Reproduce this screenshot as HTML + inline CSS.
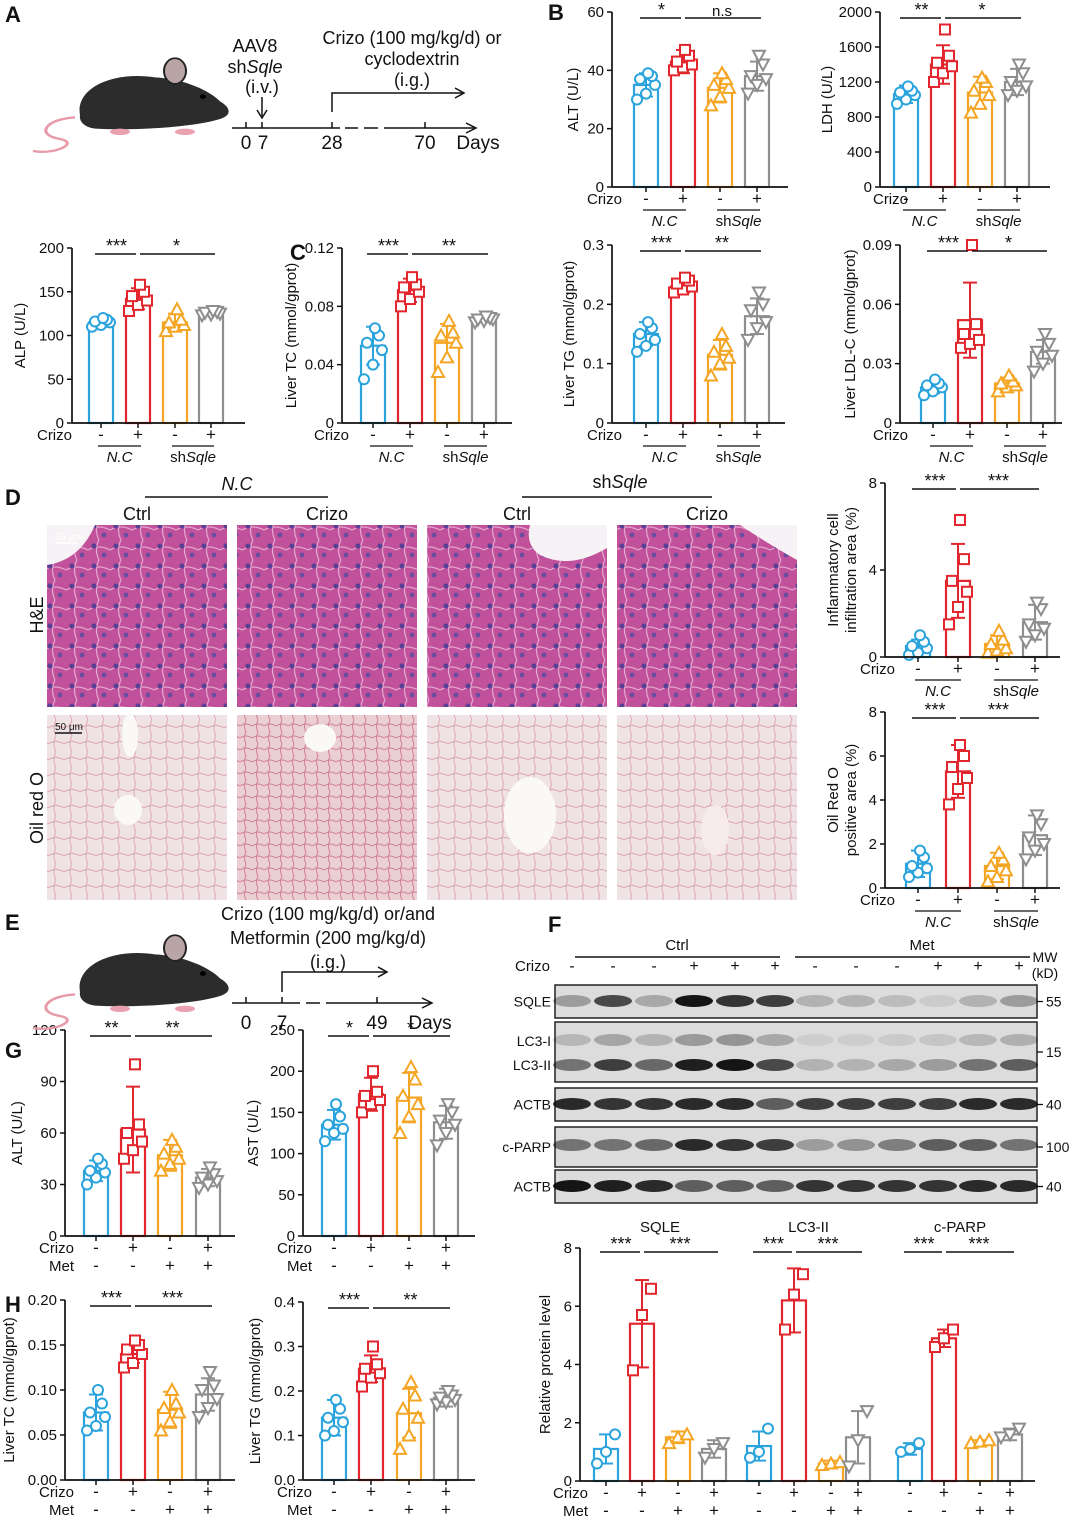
<!DOCTYPE html>
<html><head><meta charset="utf-8"><style>
body{margin:0;background:#fff;}
svg{display:block;font-family:"Liberation Sans",Arial,sans-serif;}
</style></head><body>
<svg id="fig" width="1080" height="1520" viewBox="0 0 1080 1520" xmlns="http://www.w3.org/2000/svg">
<defs>
<pattern id="he" width="22" height="20" patternUnits="userSpaceOnUse">
<rect width="22" height="20" fill="#c0519a"/>
<path d="M0 10 Q11 4 22 10 M11 0 Q6 10 11 20" stroke="#e3a3cc" stroke-width="1.3" fill="none"/>
<circle cx="6" cy="6" r="2.6" fill="#5a3f95"/><circle cx="16" cy="15" r="2.4" fill="#6a4ca0"/>
</pattern>
<pattern id="oil" width="16" height="16" patternUnits="userSpaceOnUse">
<rect width="16" height="16" fill="#f0e3e5"/>
<path d="M0 8 Q8 3 16 8 M8 0 Q4 8 8 16" stroke="#dca3b0" stroke-width="0.9" fill="none"/>
</pattern>
<pattern id="oil2" width="12" height="12" patternUnits="userSpaceOnUse">
<rect width="12" height="12" fill="#eacfd5"/>
<path d="M0 6 Q6 2 12 6 M6 0 Q3 6 6 12" stroke="#cf7f93" stroke-width="1" fill="none"/>
</pattern>
</defs>
<g id="root"></g>
</svg>
<script>
// ---------- DATA ----------
const altB_mean=[35,43,34,38], altB_sd=[4,4,5,5];
const altB_pts=[[30,32,35,37,38,39],[40,41,42,43,45,47],[28,31,34,35,37,39],[32,35,37,38,42,45]];
const ldh_mean=[1060,1400,1080,1200], ldh_sd=[100,220,180,150];
const ldh_pts=[[950,1000,1050,1080,1100,1150],[1200,1300,1380,1420,1500,1800],[850,950,1050,1100,1200,1250],[1050,1100,1150,1200,1300,1400]];
const alp_mean=[115,142,115,126], alp_sd=[5,12,10,3];
const alp_pts=[[110,112,115,116,118,120],[128,135,140,145,150,158],[105,110,112,115,118,130],[123,124,125,126,127,128]];
const tc_mean=[0.053,0.091,0.055,0.071], tc_sd=[0.013,0.008,0.013,0.002];
const tc_pts=[[0.03,0.04,0.05,0.055,0.06,0.065],[0.08,0.085,0.09,0.093,0.095,0.1],[0.035,0.045,0.055,0.06,0.062,0.07],[0.069,0.07,0.071,0.071,0.072,0.073]];
const tg_mean=[0.15,0.23,0.115,0.18], tg_sd=[0.02,0.01,0.025,0.03];
const tg_pts=[[0.12,0.13,0.14,0.15,0.16,0.17],[0.22,0.225,0.23,0.235,0.24,0.245],[0.08,0.1,0.11,0.12,0.13,0.15],[0.14,0.16,0.17,0.19,0.2,0.22]];
const ldl_mean=[0.018,0.052,0.02,0.036], ldl_sd=[0.003,0.019,0.003,0.006];
const ldl_pts=[[0.014,0.016,0.018,0.019,0.02,0.022],[0.038,0.04,0.042,0.045,0.05,0.09],[0.016,0.018,0.019,0.02,0.021,0.024],[0.026,0.03,0.034,0.036,0.04,0.045]];
const inf_mean=[0.5,3.5,0.6,1.6], inf_sd=[0.3,1.7,0.4,0.8];
const inf_pts=[[0.1,0.2,0.4,0.5,0.7,1.0],[1.5,2.3,3.0,3.5,4.5,6.3],[0.2,0.3,0.4,0.6,0.8,1.2],[0.7,1.0,1.3,1.5,2.2,2.5]];
const oil_mean=[1.1,5.3,1.0,2.4], oil_sd=[0.6,1.2,0.6,0.9];
const oil_pts=[[0.5,0.7,0.9,1.0,1.4,1.7],[3.8,4.5,5.0,5.5,6.0,6.5],[0.3,0.5,0.8,1.0,1.3,1.6],[1.3,1.7,2.0,2.3,2.9,3.3]];
const altG_mean=[38,62,47,34], altG_sd=[6,25,9,5];
const altG_pts=[[30,34,37,38,42,45],[45,50,55,60,65,100],[38,42,45,48,52,56],[28,30,32,34,36,40]];
const ast_mean=[135,172,168,138], ast_sd=[18,20,30,20];
const ast_pts=[[115,125,130,135,145,160],[150,160,165,170,175,200],[125,145,160,170,190,205],[110,125,135,140,150,160]];
const htc_mean=[0.075,0.14,0.078,0.095], htc_sd=[0.02,0.01,0.02,0.018];
const htc_pts=[[0.055,0.06,0.07,0.075,0.085,0.1],[0.125,0.13,0.14,0.145,0.15,0.155],[0.055,0.065,0.075,0.08,0.085,0.1],[0.07,0.08,0.09,0.1,0.105,0.12]];
const htg_mean=[0.14,0.25,0.15,0.185], htg_sd=[0.04,0.03,0.055,0.02];
const htg_pts=[[0.1,0.11,0.13,0.14,0.16,0.18],[0.21,0.23,0.24,0.25,0.26,0.3],[0.07,0.1,0.14,0.16,0.19,0.22],[0.17,0.175,0.18,0.185,0.19,0.2]];
const sqle_mean=[1.1,5.4,1.5,1.1], sqle_sd=[0.5,1.5,0.2,0.3];
const sqle_pts=[[0.6,1.0,1.6],[3.8,5.7,6.6],[1.3,1.5,1.6],[0.8,1.1,1.3]];
const lc3_mean=[1.2,6.2,0.6,1.5], lc3_sd=[0.5,1.1,0.1,0.9];
const lc3_pts=[[0.8,1.0,1.8],[5.2,6.4,7.1],[0.55,0.6,0.65],[0.5,1.4,2.4]];
const parp_mean=[1.1,4.9,1.3,1.6], parp_sd=[0.2,0.3,0.1,0.2];
const parp_pts=[[1.0,1.1,1.3],[4.6,4.9,5.2],[1.3,1.35,1.4],[1.5,1.6,1.8]];

// ---------- helpers ----------
const NS='http://www.w3.org/2000/svg';
const root=document.getElementById('root');
const COL=['#2ba3dc','#e1262d','#f5a524','#8e8e8e'];
function mk(tag,attrs,parent,txt){const e=document.createElementNS(NS,tag);for(const k in attrs)e.setAttribute(k,attrs[k]);if(txt!==undefined)e.textContent=txt;(parent||root).appendChild(e);return e;}
function txt(x,y,s,size,anchor,parent,extra){const t=mk('text',Object.assign({x:x,y:y,'font-size':size||15,'text-anchor':anchor||'middle',fill:'#111'},extra||{}),parent,s);return t;}
function html(x,y,markup,size,anchor,parent){const t=mk('text',{x:x,y:y,'font-size':size||15,'text-anchor':anchor||'middle',fill:'#111'},parent);t.innerHTML=markup;return t;}
const JIT=[-9,0,9,-6,6,2];
function marker(g,i,cx,cy){const c=COL[i];const s=5;
 let e;
 if(i===0)e=mk('circle',{cx:cx,cy:cy,r:s,fill:'#fff',stroke:c,'stroke-width':2},g);
 else if(i===1)e=mk('rect',{x:cx-s,y:cy-s,width:2*s,height:2*s,fill:'#fff',stroke:c,'stroke-width':2},g);
 else if(i===2)e=mk('polygon',{points:`${cx},${cy-s-1} ${cx-s-1},${cy+s} ${cx+s+1},${cy+s}`,fill:'#fff',stroke:c,'stroke-width':2},g);
 else e=mk('polygon',{points:`${cx},${cy+s+1} ${cx-s-1},${cy-s} ${cx+s+1},${cy-s}`,fill:'#fff',stroke:c,'stroke-width':2},g);
 
 
}
function chart(o){
 const g=mk('g',{},root);
 const y=v=>o.yb-(v/o.max)*(o.yb-o.yt);
 o.groups.forEach((grp,gi)=>{
  const xs=o.bx.slice(gi*4,gi*4+4);const m=grp.mean,sd=grp.sd,pts=grp.pts;
  xs.forEach((bx,i)=>{
   const b=mk('rect',{x:bx-12,y:y(m[i]),width:24,height:o.yb-y(m[i]),fill:'#fff',stroke:COL[i],'stroke-width':2.2},g);
   
   
   mk('line',{x1:bx,x2:bx,y1:y(m[i]-sd[i]),y2:y(m[i]+sd[i]),stroke:COL[i],'stroke-width':2},g);
   mk('line',{x1:bx-7,x2:bx+7,y1:y(m[i]+sd[i]),y2:y(m[i]+sd[i]),stroke:COL[i],'stroke-width':2},g);
   mk('line',{x1:bx-7,x2:bx+7,y1:y(m[i]-sd[i]),y2:y(m[i]-sd[i]),stroke:COL[i],'stroke-width':2},g);
   pts[i].forEach((v,k)=>marker(g,i,bx+JIT[k%6],y(v)));
  });
  if(grp.sig){const sy=o.yt+ (o.sigOff||6);
   mk('line',{x1:xs[0]-6,x2:xs[1]-2,y1:sy,y2:sy,stroke:'#111','stroke-width':1.5},g);
   mk('line',{x1:xs[1]+2,x2:xs[3]+4,y1:sy,y2:sy,stroke:'#111','stroke-width':1.5},g);
   txt((xs[0]+xs[1])/2-3,sy-2,grp.sig[0],grp.sig[0]==='n.s'?15:18,'middle',g);
   txt((xs[1]+xs[3])/2+2,sy-2,grp.sig[1],grp.sig[1]==='n.s'?15:18,'middle',g);
   if(grp.title)txt((xs[0]+xs[3])/2,sy-20,grp.title,15,'middle',g);
  }
 });
 mk('line',{x1:o.ax,x2:o.ax,y1:o.yt,y2:o.yb,stroke:'#111','stroke-width':1.7},g);
 mk('line',{x1:o.ax,x2:o.axEnd,y1:o.yb,y2:o.yb,stroke:'#111','stroke-width':1.7},g);
 o.ticks.forEach((t,k)=>{const ty=y(o.tickVals[k]);
  mk('line',{x1:o.ax-5,x2:o.ax,y1:ty,y2:ty,stroke:'#111','stroke-width':1.5},g);
  txt(o.ax-8,ty+5,t,15,'end',g);});
 const lab=txt(0,0,o.ylabel,15,'middle',g);lab.setAttribute('transform',`translate(${o.ylx},${(o.yt+o.yb)/2}) rotate(-90)`);
 if(o.ylabel2){const l2=txt(0,0,o.ylabel2,15,'middle',g);l2.setAttribute('transform',`translate(${o.ylx+18},${(o.yt+o.yb)/2}) rotate(-90)`);}
 const r1=o.yb+17;
 txt(o.crizoX,r1,'Crizo',15,'end',g);
 o.bx.forEach((bx,k)=>{ mk('line',{x1:bx,x2:bx,y1:o.yb,y2:o.yb+5,stroke:'#111','stroke-width':1.5},g);
   txt(bx,r1,k%2?'+':'-',17,'middle',g);});
 if(o.met){txt(o.crizoX,r1+18,'Met',15,'end',g);
   o.bx.forEach((bx,k)=>txt(bx,r1+18,(k%4)>1?'+':'-',17,'middle',g));}
 else{
  for(let p=0;p<o.bx.length;p+=2){const a=o.bx[p],b=o.bx[p+1];
   mk('line',{x1:a-3,x2:b+3,y1:r1+6,y2:r1+6,stroke:'#111','stroke-width':1.3},g);
   if(p%4===0)html((a+b)/2,r1+22,'<tspan font-style="italic">N.C</tspan>',15,'middle',g);
   else html((a+b)/2,r1+22,'sh<tspan font-style="italic">Sqle</tspan>',15,'middle',g);}
 }
}
chart({name:'alt-b-chart',ax:612,axEnd:788,yt:12,yb:187,max:60,ticks:['0','20','40','60'],tickVals:[0,20,40,60],bx:[646,683,720,757],groups:[{mean:altB_mean,sd:altB_sd,pts:altB_pts,sig:['*','n.s']}],ylabel:'ALT (U/L)',ylx:578,crizoX:622});
chart({name:'ldh-chart',ax:880,axEnd:1050,yt:12,yb:187,max:2000,ticks:['0','400','800','1200','1600','2000'],tickVals:[0,400,800,1200,1600,2000],bx:[906,943,980,1017],groups:[{mean:ldh_mean,sd:ldh_sd,pts:ldh_pts,sig:['**','*']}],ylabel:'LDH (U/L)',ylx:832,crizoX:908});
chart({name:'alp-chart',ax:72,axEnd:245,yt:248,yb:423,max:200,ticks:['0','50','100','150','200'],tickVals:[0,50,100,150,200],bx:[101,138,175,211],groups:[{mean:alp_mean,sd:alp_sd,pts:alp_pts,sig:['***','*']}],ylabel:'ALP (U/L)',ylx:25,crizoX:72});
chart({name:'liver-tc-chart',ax:342,axEnd:512,yt:248,yb:423,max:0.12,ticks:['0','0.04','0.08','0.12'],tickVals:[0,0.04,0.08,0.12],bx:[373,410,447,484],groups:[{mean:tc_mean,sd:tc_sd,pts:tc_pts,sig:['***','**']}],ylabel:'Liver TC (mmol/gprot)',ylx:296,crizoX:349});
chart({name:'liver-tg-chart',ax:612,axEnd:785,yt:245,yb:423,max:0.3,ticks:['0','0.1','0.2','0.3'],tickVals:[0,0.1,0.2,0.3],bx:[646,683,720,757],groups:[{mean:tg_mean,sd:tg_sd,pts:tg_pts,sig:['***','**']}],ylabel:'Liver TG (mmol/gprot)',ylx:574,crizoX:622});
chart({name:'liver-ldl-chart',ax:900,axEnd:1062,yt:245,yb:423,max:0.09,ticks:['0','0.03','0.06','0.09'],tickVals:[0,0.03,0.06,0.09],bx:[933,970,1007,1043],groups:[{mean:ldl_mean,sd:ldl_sd,pts:ldl_pts,sig:['***','*']}],ylabel:'Liver LDL-C (mmol/gprot)',ylx:855,crizoX:908});
chart({name:'inflammatory-chart',ax:885,axEnd:1060,yt:483,yb:657,max:8,ticks:['0','4','8'],tickVals:[0,4,8],bx:[918,958,997,1035],groups:[{mean:inf_mean,sd:inf_sd,pts:inf_pts,sig:['***','***']}],ylabel:'Inflammatory cell',ylabel2:'infiltration area (%)',ylx:838,crizoX:895});
chart({name:'oil-red-chart',ax:885,axEnd:1060,yt:712,yb:888,max:8,ticks:['0','2','4','6','8'],tickVals:[0,2,4,6,8],bx:[918,958,997,1035],groups:[{mean:oil_mean,sd:oil_sd,pts:oil_pts,sig:['***','***']}],ylabel:'Oil Red O',ylabel2:'positive area (%)',ylx:838,crizoX:895});
chart({name:'alt-g-chart',ax:65,axEnd:235,yt:1030,yb:1236,max:120,ticks:['0','30','60','90','120'],tickVals:[0,30,60,90,120],bx:[96,133,170,208],groups:[{mean:altG_mean,sd:altG_sd,pts:altG_pts,sig:['**','**']}],ylabel:'ALT (U/L)',ylx:22,crizoX:74,met:true});
chart({name:'ast-chart',ax:303,axEnd:475,yt:1030,yb:1236,max:250,ticks:['0','50','100','150','200','250'],tickVals:[0,50,100,150,200,250],bx:[334,371,409,446],groups:[{mean:ast_mean,sd:ast_sd,pts:ast_pts,sig:['*','*']}],ylabel:'AST (U/L)',ylx:258,crizoX:312,met:true});
chart({name:'h-tc-chart',ax:65,axEnd:235,yt:1300,yb:1480,max:0.2,ticks:['0.00','0.05','0.10','0.15','0.20'],tickVals:[0,0.05,0.1,0.15,0.2],bx:[96,133,170,208],groups:[{mean:htc_mean,sd:htc_sd,pts:htc_pts,sig:['***','***']}],ylabel:'Liver TC (mmol/gprot)',ylx:14,crizoX:74,met:true});
chart({name:'h-tg-chart',ax:303,axEnd:475,yt:1302,yb:1480,max:0.4,ticks:['0.0','0.1','0.2','0.3','0.4'],tickVals:[0,0.1,0.2,0.3,0.4],bx:[334,371,409,446],groups:[{mean:htg_mean,sd:htg_sd,pts:htg_pts,sig:['***','**']}],ylabel:'Liver TG (mmol/gprot)',ylx:260,crizoX:312,met:true});
chart({name:'relative-protein-chart',ax:580,axEnd:1035,yt:1248,yb:1481,max:8,sigOff:4,ticks:['0','2','4','6','8'],tickVals:[0,2,4,6,8],bx:[606,642,678,714,759,794,831,858,910,944,980,1010],groups:[{mean:sqle_mean,sd:sqle_sd,pts:sqle_pts,sig:['***','***'],title:'SQLE'},{mean:lc3_mean,sd:lc3_sd,pts:lc3_pts,sig:['***','***'],title:'LC3-II'},{mean:parp_mean,sd:parp_sd,pts:parp_pts,sig:['***','***'],title:'c-PARP'}],ylabel:'Relative protein level',ylx:550,crizoX:588,met:true});

[['A',5,22],['B',548,20],['C',290,260],['D',5,505],['E',5,930],['F',548,932],['G',5,1058],['H',5,1312]].forEach(([l,x,y])=>{const t=txt(x,y,l,22,'start',root,{'font-weight':'bold'});});

function mouse(x,y,name){const g=mk('g',{transform:`translate(${x},${y}) scale(1,0.8)`},root);
 mk('path',{d:'M40 78 C10 80 0 100 25 105 C45 110 20 125 -2 120',stroke:'#e79aa8','stroke-width':3,fill:'none'},g);
 mk('path',{d:'M45 75 C40 40 80 20 120 28 C150 30 175 45 185 58 C195 65 198 75 185 80 C160 90 100 95 60 92 C48 90 44 82 45 75Z',fill:'#2c2c2c'},g);
 mk('ellipse',{cx:140,cy:20,rx:11,ry:16,fill:'#b9a4a6',stroke:'#222','stroke-width':2},g);
 mk('circle',{cx:168,cy:52,r:3,fill:'#000'},g);
 mk('ellipse',{cx:150,cy:96,rx:10,ry:4,fill:'#e9a0b0'},g);mk('ellipse',{cx:85,cy:96,rx:10,ry:4,fill:'#e9a0b0'},g);
}
mouse(35,55,'mouse-illustration-a');mouse(35,932,'mouse-illustration-e');

(function(){const g=mk('g',{},root);
 mk('line',{x1:232,x2:340,y1:128,y2:128,stroke:'#111','stroke-width':1.5},g);
 mk('line',{x1:345,x2:358,y1:128,y2:128,stroke:'#111','stroke-width':1.5},g);
 mk('line',{x1:364,x2:378,y1:128,y2:128,stroke:'#111','stroke-width':1.5},g);
 mk('line',{x1:384,x2:474,y1:128,y2:128,stroke:'#111','stroke-width':1.5},g);
 mk('path',{d:'M466 123 L476 128 L466 133',stroke:'#111','stroke-width':1.5,fill:'none'},g);
 [246,262,332,425].forEach(x=>mk('line',{x1:x,x2:x,y1:128,y2:122,stroke:'#111','stroke-width':1.5},g));
 [['0',246],['7',263],['28',332],['70',425]].forEach(([s,x])=>txt(x,149,s,19,'middle',g));
 txt(478,149,'Days',19,'middle',g);
 txt(255,52,'AAV8',18,'middle',g);html(255,73,'sh<tspan font-style="italic">Sqle</tspan>',18,'middle',g);txt(262,93,'(i.v.)',18,'middle',g);
 mk('line',{x1:262,x2:262,y1:97,y2:116,stroke:'#111','stroke-width':1.5},g);mk('path',{d:'M257 110 L262 118 L267 110',stroke:'#111','stroke-width':1.5,fill:'none'},g);
 txt(412,44,'Crizo (100 mg/kg/d) or',18,'middle',g);txt(412,65,'cyclodextrin',18,'middle',g);txt(412,86,'(i.g.)',18,'middle',g);
 mk('path',{d:'M332 112 L332 93 L462 93',stroke:'#111','stroke-width':1.5,fill:'none'},g);mk('path',{d:'M455 88 L464 93 L455 98',stroke:'#111','stroke-width':1.5,fill:'none'},g);
})();
(function(){const g=mk('g',{},root);
 mk('line',{x1:232,x2:300,y1:1003,y2:1003,stroke:'#111','stroke-width':1.5},g);
 mk('line',{x1:306,x2:320,y1:1003,y2:1003,stroke:'#111','stroke-width':1.5},g);
 mk('line',{x1:326,x2:430,y1:1003,y2:1003,stroke:'#111','stroke-width':1.5},g);
 mk('path',{d:'M422 998 L432 1003 L422 1008',stroke:'#111','stroke-width':1.5,fill:'none'},g);
 [246,282,377].forEach(x=>mk('line',{x1:x,x2:x,y1:1003,y2:997,stroke:'#111','stroke-width':1.5},g));
 [['0',246],['7',282],['49',377]].forEach(([s,x])=>txt(x,1029,s,19,'middle',g));txt(430,1029,'Days',19,'middle',g);
 txt(328,920,'Crizo (100 mg/kg/d) or/and',18,'middle',g);txt(328,944,'Metformin (200 mg/kg/d)',18,'middle',g);txt(328,968,'(i.g.)',18,'middle',g);
 mk('path',{d:'M282 992 L282 972 L385 972',stroke:'#111','stroke-width':1.5,fill:'none'},g);mk('path',{d:'M378 967 L387 972 L378 977',stroke:'#111','stroke-width':1.5,fill:'none'},g);
})();

(function(){const g=mk('g',{},root);
 mk('line',{x1:145,x2:328,y1:497,y2:497,stroke:'#111','stroke-width':1.5},g);html(237,490,'<tspan font-style="italic">N.C</tspan>',18,'middle',g);
 mk('line',{x1:522,x2:712,y1:497,y2:497,stroke:'#111','stroke-width':1.5},g);html(620,488,'sh<tspan font-style="italic">Sqle</tspan>',18,'middle',g);
 const xs=[47,237,427,617];['Ctrl','Crizo','Ctrl','Crizo'].forEach((s,i)=>txt(xs[i]+90,520,s,18,'middle',g));
 const l1=txt(0,0,'H&E',18,'middle',g);l1.setAttribute('transform','translate(43,615) rotate(-90)');
 const l2=txt(0,0,'Oil red O',18,'middle',g);l2.setAttribute('transform','translate(43,808) rotate(-90)');
 xs.forEach((x,i)=>{const a=mk('rect',{x:x,y:525,width:180,height:182,fill:'url(#he)'},g);
  const b=mk('rect',{x:x,y:715,width:180,height:185,fill:i===1?'url(#oil2)':'url(#oil)'},g);});
 mk('path',{d:'M47 525 L95 525 Q80 560 47 565Z',fill:'#f7f2f5'},g);
 mk('path',{d:'M530 525 L607 525 L607 548 Q570 570 540 555 Q525 545 530 525Z',fill:'#f7f2f5'},g);
 mk('path',{d:'M740 525 L797 525 L797 560 Q770 545 740 525Z',fill:'#f7f2f5'},g);
 mk('ellipse',{cx:130,cy:735,rx:8,ry:22,fill:'#fbf8f8'},g);mk('ellipse',{cx:128,cy:810,rx:14,ry:15,fill:'#fbf8f8'},g);
 mk('ellipse',{cx:320,cy:738,rx:16,ry:14,fill:'#fbf8f8'},g);mk('ellipse',{cx:530,cy:815,rx:26,ry:38,fill:'#fbf8f8'},g);
 mk('ellipse',{cx:715,cy:830,rx:14,ry:25,fill:'#f6eaea'},g);
 txt(55,540,'25 μm',10,'start',g,{fill:'#fff'});mk('line',{x1:55,x2:78,y1:543,y2:543,stroke:'#fff','stroke-width':1.5},g);
 txt(55,730,'50 μm',10,'start',g);mk('line',{x1:55,x2:82,y1:733,y2:733,stroke:'#111','stroke-width':1.5},g);
})();

(function(){const g=mk('g',{},root);
 mk('line',{x1:575,x2:780,y1:957,y2:957,stroke:'#111','stroke-width':1.5},g);txt(677,950,'Ctrl',15,'middle',g);
 mk('line',{x1:795,x2:1030,y1:957,y2:957,stroke:'#111','stroke-width':1.5},g);txt(922,950,'Met',15,'middle',g);
 txt(1045,962,'MW',14,'middle',g);txt(1045,978,'(kD)',14,'middle',g);txt(550,971,'Crizo',15,'end',g);
 const lanes=[572,613,654,694,735,775,815,856,897,938,978,1019];
 lanes.forEach((x,i)=>txt(x,971,[0,1,2,6,7,8].includes(i)?'-':'+',16,'middle',g));
 const rows=[{n:'SQLE',y:985,h:33,lab:'55',int:[0.3,0.7,0.25,0.95,0.8,0.75,0.2,0.2,0.15,0.08,0.2,0.3],by:[16]},
  {n:'LC3',y:1022,h:60,lab:'15',int:[0.5,0.75,0.55,0.9,0.95,0.7,0.2,0.2,0.25,0.3,0.5,0.6],by:[18,43]},
  {n:'ACTB',y:1088,h:33,lab:'40',int:[0.85,0.8,0.8,0.85,0.85,0.6,0.75,0.75,0.75,0.75,0.85,0.85],by:[16]},
  {n:'c-PARP',y:1127,h:40,lab:'100',int:[0.5,0.5,0.55,0.85,0.8,0.75,0.3,0.35,0.45,0.6,0.6,0.5],by:[18]},
  {n:'ACTB',y:1170,h:33,lab:'40',int:[0.95,0.9,0.85,0.6,0.6,0.6,0.8,0.8,0.8,0.8,0.85,0.85],by:[16]}];
 rows.forEach((r,ri)=>{const bg=mk('rect',{x:555,y:r.y,width:482,height:r.h,fill:'#dcdcdc',stroke:'#222','stroke-width':1.5},g);
  
  r.by.forEach((by,bi)=>lanes.forEach((x,i)=>{const a=bi===0&&r.n==='LC3'?r.int[i]*0.35:r.int[i];
    mk('ellipse',{cx:x,cy:r.y+by,rx:19,ry:6,fill:`rgba(10,10,10,${a})`},g);}));
  mk('line',{x1:1037,x2:1043,y1:r.y+r.h/2,y2:r.y+r.h/2,stroke:'#111','stroke-width':1.3},g);
  txt(1046,r.y+r.h/2+5,r.lab,14,'start',g);
  if(r.n==='LC3'){txt(551,1046,'LC3-I',14,'end',g);txt(551,1070,'LC3-II',14,'end',g);}
  else txt(551,r.y+r.h/2+5,r.n,14,'end',g);
 });
})();
</script>
</body></html>
